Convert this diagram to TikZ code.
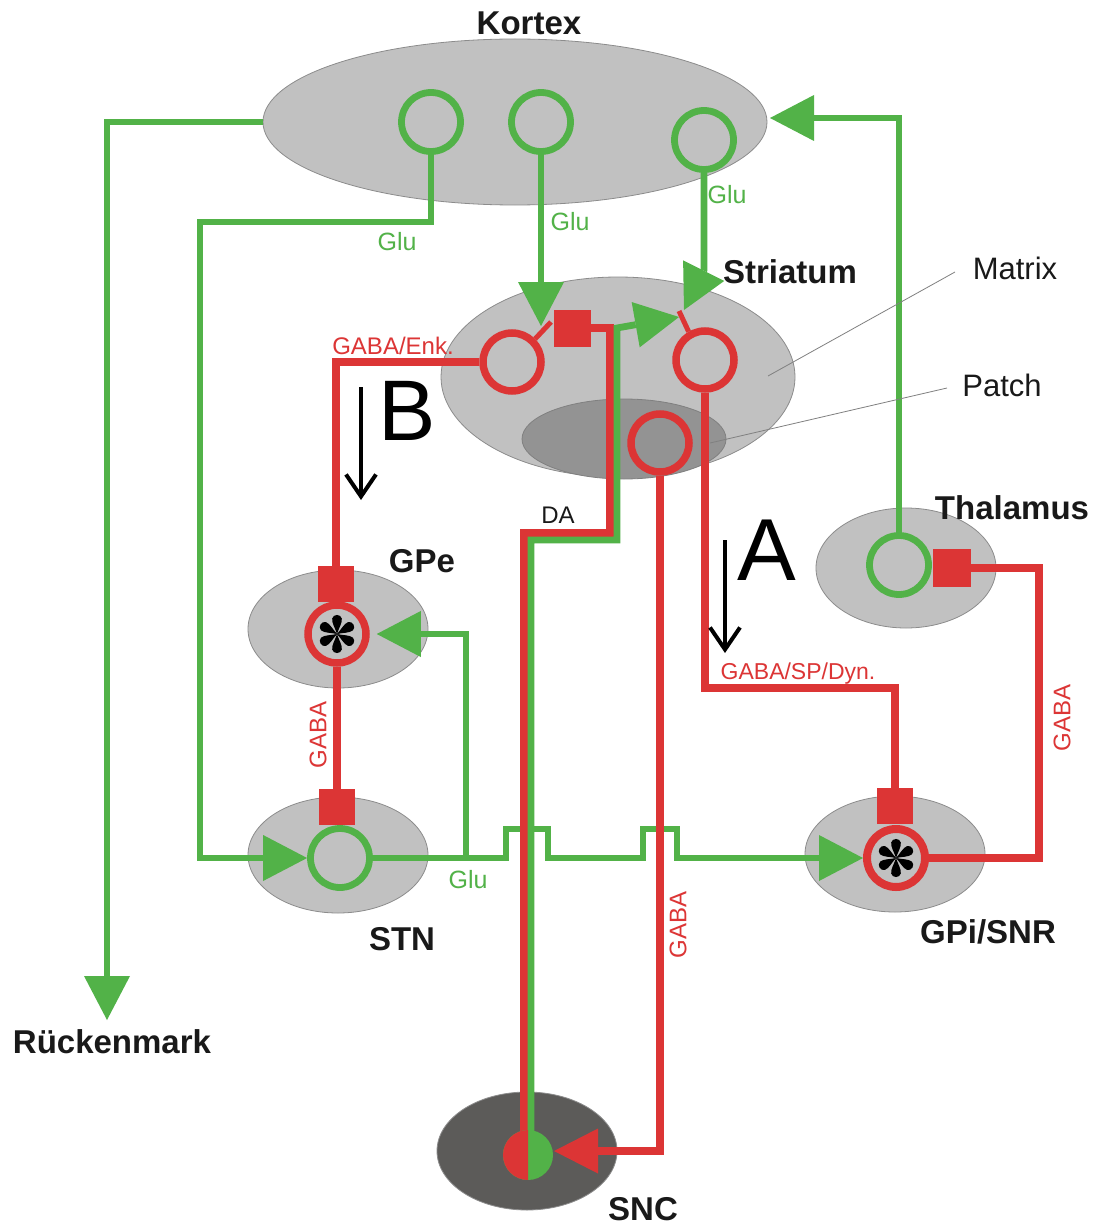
\documentclass[tikz,border=0pt]{standalone}
\usepackage{fontspec}
\setmainfont{Liberation Sans}
\usetikzlibrary{arrows.meta,shapes.geometric}
\definecolor{G}{HTML}{52B248}
\definecolor{R}{HTML}{DC3535}
\definecolor{RG}{HTML}{C1C1C1}
\definecolor{PG}{HTML}{939393}
\definecolor{SG}{HTML}{5C5B59}
\tikzset{
  region/.style={ellipse, draw=black!45, line width=0.8pt, fill=RG, inner sep=0pt},
  gring/.style={circle, draw=G, line width=6.8pt, minimum size=59pt, inner sep=0pt},
  rring/.style={circle, draw=R, line width=7.5pt, minimum size=58pt, inner sep=0pt},
  rsq/.style={rectangle, fill=R, minimum size=37pt, inner sep=0pt},
  gline/.style={draw=G, line width=6.8pt},
  rline/.style={draw=R, line width=7.5pt},
  garrow/.style={-{Triangle[length=44pt,width=46pt,line width=0pt]}},
  rarrow/.style={-{Triangle[length=44pt,width=45pt,line width=0pt]}},
  karrow/.style={line width=4pt,-{Straight Barb[length=22pt,width=30pt]}},
  lbl/.style={font=\fontsize{33}{36}\selectfont\bfseries, text=black!90, inner sep=0pt},
  plain/.style={font=\fontsize{31}{34}\selectfont, text=black!90, inner sep=0pt},
  glu/.style={font=\fontsize{25}{28}\selectfont, text=G, inner sep=0pt},
  rlab/.style={font=\fontsize{24}{27}\selectfont, text=R, inner sep=0pt},
  astpic/.pic={\foreach \a in {90,30,-30,-90,150,210}{\fill[black,rotate=\a] (0,0) .. controls (6,-1.8) and (11,-5.4) .. (15.5,-4.8) .. controls (20.2,-3.8) and (20.2,3.8) .. (15.5,4.8) .. controls (11,5.4) and (6,1.8) .. (0,0);}}
}
\begin{document}
\begin{tikzpicture}[x=1pt,y=-1pt]
\useasboundingbox (0,0) rectangle (1095,1225);
\fill[white] (0,0) rectangle (1095,1225);
% regions
\node[region, minimum width=504pt, minimum height=166pt] (kortex) at (515,122) {};
\node[region, minimum width=354pt, minimum height=200pt] (striatum) at (618,377) {};
\node[ellipse, draw=black!50, line width=0.8pt, fill=PG, minimum width=204pt, minimum height=80pt, inner sep=0pt] (patch) at (624,439) {};
\node[region, minimum width=180pt, minimum height=120pt] (thal) at (906,568) {};
\node[region, minimum width=180pt, minimum height=118pt] (gpe) at (338,629) {};
\node[region, minimum width=180pt, minimum height=116pt] (stn) at (338,855) {};
\node[region, minimum width=180pt, minimum height=116pt] (gpi) at (895,854) {};
\node[region, fill=SG, minimum width=180pt, minimum height=118pt] (snc) at (527,1151) {};
% neurons
\node[gring] (k1) at (431,122) {};
\node[gring] (k2) at (541,122) {};
\node[gring] (k3) at (704,140) {};
\node[rring] (s1) at (512,362) {};
\node[rring] (s2) at (705,360) {};
\node[rring] (p1) at (660,443) {};
\node[gring] (th1) at (899,565) {};
\node[rring] (gpe1) at (337,634) {};
\node[gring] (stn1) at (340,858) {};
\node[rring, line width=8pt] (gpi1) at (896,858) {};
% synapse squares
\node[rsq] (ssq) at (572,328) {};
\node[rsq, minimum size=36pt] (gpesq) at (336,584) {};
\node[rsq, minimum size=36pt] (stnsq) at (337,807) {};
\node[rsq, minimum size=36pt] (gpisq) at (895,806) {};
\node[rsq, minimum size=38pt] (thsq) at (952,568) {};
% coordinates
\coordinate (rm) at (107,1020);
\coordinate (tipL) at (541,326);
\coordinate (tipR) at (684,310);
\coordinate (ktip) at (770,118);
\coordinate (br) at (466,858);
\coordinate (daR) at (524,1150);
\coordinate (daG) at (531,1150);
\coordinate (tipG) at (679,317);
\coordinate (snctip) at (554,1151);
\coordinate (synL) at (551,322);
\coordinate (synR) at (679,311);
\coordinate (sncd) at (528,1155);
% green connections
\draw[gline,garrow] (kortex.west) -| (rm);
\draw[gline,garrow] (k1.south) |- (200,222) |- (stn1.west);
\draw[gline,garrow] (k2.south) -- (tipL);
\draw[gline,garrow] (k3.south) -- (704,270) -- (tipR);
\draw[gline,garrow] (th1.north) |- (ktip);
\draw[gline,garrow] (stn1.east) -- (506,858) -- (506,829) -- (548,829) -- (548,858) -- (643,858) -- (643,829) -- (677,829) -- (677,858) -- (gpi1.west);
\draw[gline,garrow] (br) |- ([xshift=7pt]gpe1.east);
% red connections
\draw[rline] (s1.west) -| (gpesq.north);
\draw[rline] (gpe1.south) -- (stnsq.north);
\draw[rline] (s2.south) |- (800,688) -| (gpisq.north);
\draw[rline] (gpi1.east) -| (1039,700) |- (thsq.east);
\draw[rline,rarrow] (p1.south) |- (snctip);
% dopamine pathway
\draw[rline] (daR) -- (524,533) -- (610,533) |- (ssq.east);
\draw[gline,garrow] (daG) -- (531,540) -- (617,540) -- (617,328) -- (tipG);
% stubs
\draw[R, line width=5pt] (s1.45) -- (synL);
\draw[R, line width=5pt] (s2.120) -- (synR);
% SNC dot
\fill[G] (sncd) circle[radius=25];
\begin{scope}
\clip (500,1125) rectangle (528,1185);
\fill[R] (sncd) circle[radius=25];
\end{scope}
% asterisks
\pic at (gpe1) {astpic};
\pic at (gpi1) {astpic};
% black arrows
\draw[karrow] (361,387) coordinate (bB1) -- (361,500) coordinate (bB2);
\draw[karrow] (725,540) coordinate (bA1) -- (725,653) coordinate (bA2);
\node[font=\fontsize{86}{90}\selectfont, inner sep=0pt] (lB) at (407,411) {B};
\node[font=\fontsize{88}{92}\selectfont, inner sep=0pt] (lA) at (767,550) {A};
% labels
\node[lbl] (tK) at (529,23) {Kortex};
\node[lbl] (tS) at (790,272) {Striatum};
\node[lbl] (tT) at (1012,508) {Thalamus};
\node[lbl] (tGPe) at (422,561) {GPe};
\node[lbl] (tSTN) at (402,939) {STN};
\node[lbl] (tGPi) at (988,932) {GPi/SNR};
\node[lbl] (tSNC) at (643,1209) {SNC};
\node[lbl] (tR) at (112,1042) {Rückenmark};
\node[plain] (tM) at (1015,268) {Matrix};
\node[plain] (tP) at (1002,385) {Patch};
\draw[black!50, line width=0.8pt] (955,272) -- (768,376);
\draw[black!50, line width=0.8pt] (947,388) -- (710,443);
\node[glu] (g1) at (397,242) {Glu};
\node[glu] (g2) at (570,222) {Glu};
\node[glu] (g3) at (727,195) {Glu};
\node[glu] (g4) at (468,880) {Glu};
\node[font=\fontsize{24}{27}\selectfont, text=black!90, inner sep=0pt] (tDA) at (558,515) {DA};
\node[rlab] (tEnk) at (393,346) {GABA/Enk.};
\node[rlab, font=\fontsize{23}{26}\selectfont] (tDyn) at (798,674) {GABA/SP/Dyn.};
\node[rlab, rotate=90] (gab1) at (318,735) {GABA};
\node[rlab, rotate=90] (gab2) at (1062,718) {GABA};
\node[rlab, rotate=90] (gab3) at (678,925) {GABA};
\end{tikzpicture}
\end{document}
